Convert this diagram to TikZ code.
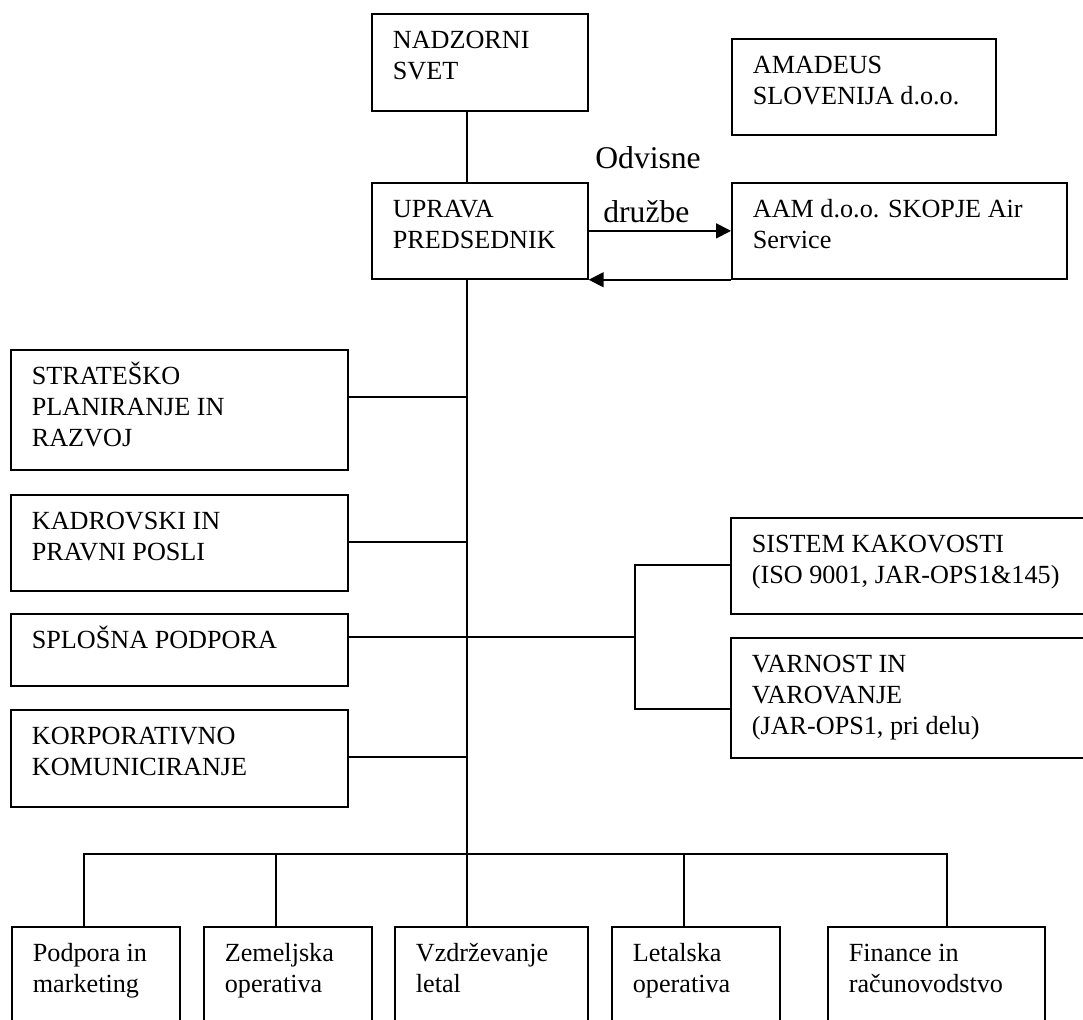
\documentclass[tikz,border=0pt]{standalone}
\usepackage{fontspec}
\setmainfont{Liberation Serif}
\usetikzlibrary{arrows.meta}
\newcommand{\boxtxt}[3]{\parbox[c][#2][t]{#1}{\fontsize{14.9pt}{17.5pt}\selectfont\raggedright\leftskip=0.42cm\rule{0pt}{0.7cm}#3}}

\begin{document}
\begin{tikzpicture}[x=0.02cm, y=-0.02cm]
\tikzstyle{unit}=[draw, line width=1pt, anchor=north west, inner sep=0pt]
\tikzstyle{line}=[draw, line width=1pt]
\tikzstyle{arrow}=[draw, line width=1pt, -{Triangle[length=0.3cm, width=0.3cm]}]

\useasboundingbox (0,0) rectangle (1083,1019);
\clip (0,0) rectangle (1083,1019);
\fill[white] (0,0) rectangle (1083,1019);

% Top units
\node[unit] (nadzor) at (371,13) {\boxtxt{4.32cm}{1.94cm}{NADZORNI\\SVET}};
\node[unit] (amadeus) at (731,38) {\boxtxt{5.28cm}{1.92cm}{AMADEUS\\SLOVENIJA d.o.o.}};
\node[unit] (uprava) at (371,182) {\boxtxt{4.32cm}{1.92cm}{UPRAVA\\PREDSEDNIK}};
\node[unit] (aam) at (731,182) {\boxtxt{6.70cm}{1.92cm}{AAM d.o.o. SKOPJE Air\\Service}};
\node[anchor=base west, align=left, inner sep=0pt, font=\fontsize{18pt}{30.6pt}\selectfont] (odvisne) at (595,222) {Odvisne\\\hspace*{0.16cm}družbe};

% Staff units
\node[unit] (strat) at (10,349) {\boxtxt{6.74cm}{2.40cm}{STRATEŠKO\\PLANIRANJE IN\\RAZVOJ}};
\node[unit] (kadri) at (10,494) {\boxtxt{6.74cm}{1.92cm}{KADROVSKI IN\\PRAVNI POSLI}};
\node[unit] (splosna) at (10,613) {\boxtxt{6.74cm}{1.44cm}{SPLOŠNA PODPORA}};
\node[unit] (korp) at (10,709) {\boxtxt{6.74cm}{1.94cm}{KORPORATIVNO\\KOMUNICIRANJE}};
\node[unit] (sistem) at (730,517) {\boxtxt{7.20cm}{1.92cm}{SISTEM KAKOVOSTI\\(ISO 9001, JAR-OPS1\&145)}};
\node[unit] (varnost) at (730,637) {\boxtxt{7.20cm}{2.40cm}{VARNOST IN\\VAROVANJE\\(JAR-OPS1, pri delu)}};

% Line units
\node[unit] (podpora) at (11,926) {\boxtxt{3.36cm}{2.40cm}{Podpora in\\marketing}};
\node[unit] (zemlja) at (203,926) {\boxtxt{3.36cm}{2.40cm}{Zemeljska\\operativa}};
\node[unit] (vzdr) at (394,926) {\boxtxt{3.86cm}{2.40cm}{Vzdrževanje\\letal}};
\node[unit] (letalska) at (611,926) {\boxtxt{3.36cm}{2.40cm}{Letalska\\operativa}};
\node[unit] (finance) at (827,926) {\boxtxt{4.34cm}{2.40cm}{Finance in\\računovodstvo}};

% Trunk
\coordinate (trunk) at (467,0);
\coordinate (fork) at (635,637);
\coordinate (bar) at (467,854);
\draw[line] (nadzor.south -| trunk) -- (uprava.north -| trunk);
\draw[line] (uprava.south -| trunk) -- (vzdr.north -| trunk);

% Subsidiaries
\draw[arrow] (uprava.east) -- (aam.west);
\draw[arrow] (aam.south west) -- (uprava.south east);

% Staff links
\foreach \u in {strat, kadri, korp}
  \draw[line] ([yshift=-0.96cm]\u.north east) -- ([yshift=-0.96cm]\u.north east -| trunk);
\draw[line] ([yshift=-0.48cm]splosna.north east) -- (fork);
\draw[line] ([yshift=-0.96cm]sistem.north west) -| (fork) |- ([yshift=-1.44cm]varnost.north west);

% Line links
\foreach \u/\dx in {podpora/-0.24cm, zemlja/-0.24cm, letalska/-0.24cm, finance/0.21cm}
  \draw[line] ([xshift=\dx]\u.north) |- (bar);
\end{tikzpicture}
\end{document}
